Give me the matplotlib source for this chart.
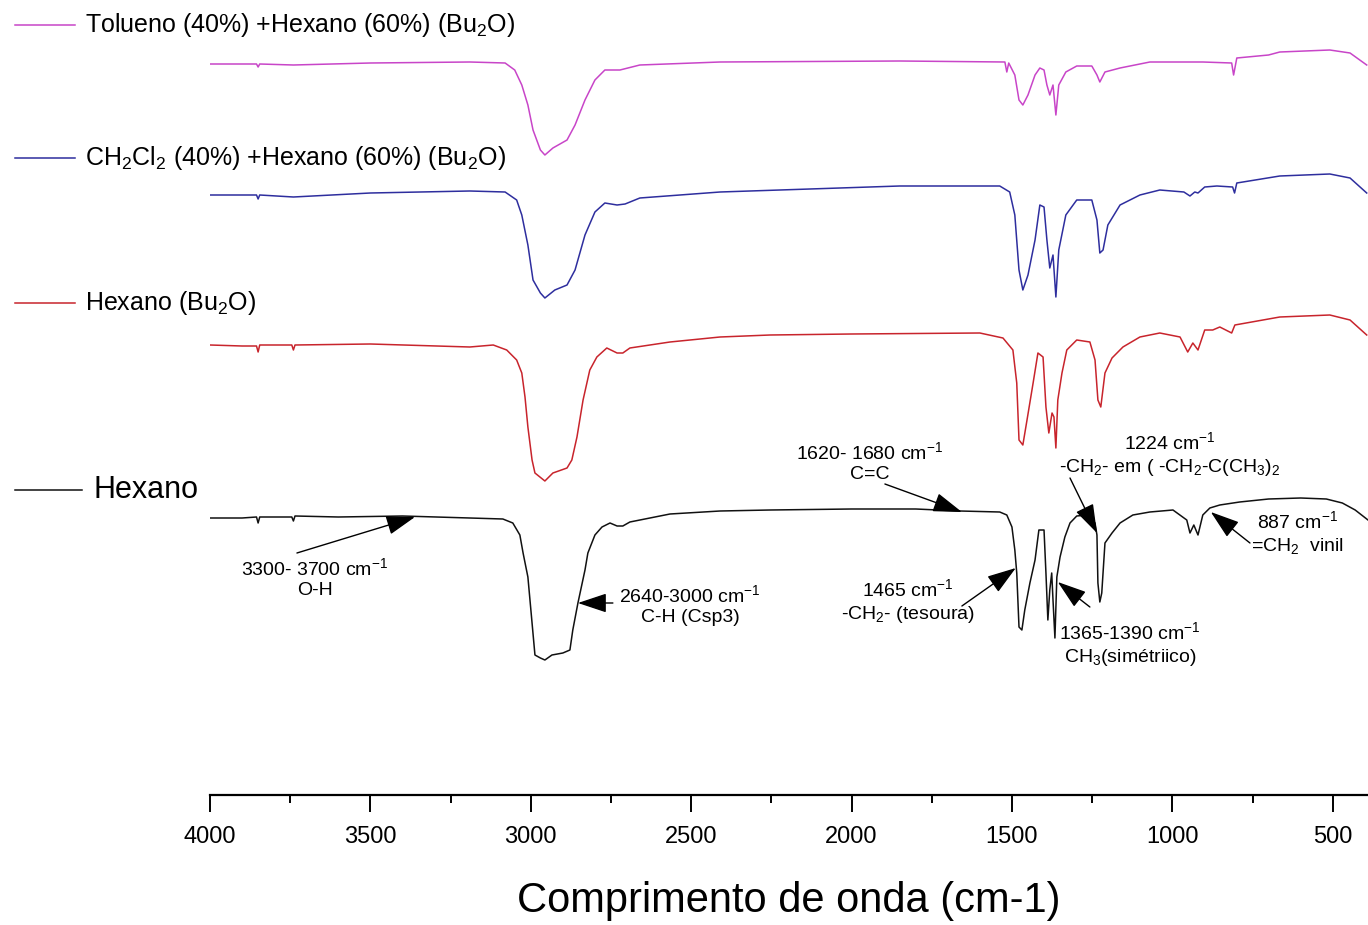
"""Stacked FTIR spectra of hexane fractions (Bu2O) with band assignments."""

import matplotlib.pyplot as plt
from matplotlib.lines import Line2D
from matplotlib.ticker import MultipleLocator

plt.rcParams['font.family'] = ['Liberation Sans', 'DejaVu Sans']
plt.rcParams['mathtext.default'] = 'regular'

# Spectra: wavenumber [cm-1] and stacked transmittance [a.u.]
hex_wn = [4000, 3900, 3855, 3850, 3845, 3745, 3740, 3735, 3600, 3400, 3190, 3087, 3056, 3034,
          3024, 3009, 2996, 2987, 2970, 2956, 2934, 2900, 2878, 2869, 2853, 2831, 2822, 2800,
          2778, 2753, 2731, 2713, 2691, 2566, 2410, 2254, 2000, 1800, 1662, 1538, 1516, 1500,
          1491, 1485, 1478, 1469, 1460, 1444, 1428, 1416, 1400, 1394, 1388, 1382, 1376, 1372,
          1366, 1360, 1350, 1335, 1319, 1298, 1266, 1241, 1235, 1232, 1226, 1220, 1210, 1188,
          1163, 1123, 1070, 998, 955, 945, 933, 920, 905, 883, 852, 790, 700, 600, 520, 470,
          430, 390]
hex_t = [277, 277, 278, 272, 278, 278, 274, 279, 278, 279, 277, 276, 272, 260,
         242, 218, 172, 140, 137, 135, 140, 142, 145, 165, 192, 225, 242, 260,
         268, 272, 269, 269, 273, 281, 284, 285, 286, 286, 284, 283, 280, 268,
         245, 222, 168, 165, 185, 212, 235, 265, 265, 222, 175, 205, 222, 195,
         157, 218, 238, 258, 272, 279, 280, 272, 260, 212, 193, 202, 252, 262,
         272, 280, 283, 285, 275, 262, 270, 260, 280, 287, 290, 293, 296, 297, 296, 292,
         285, 275]

hexbu_wn = [4000, 3900, 3855, 3850, 3845, 3745, 3740, 3735, 3500, 3190, 3117, 3075, 3044, 3028,
            3018, 3009, 2996, 2987, 2956, 2931, 2887, 2872, 2856, 2837, 2816, 2794, 2763, 2731,
            2713, 2691, 2566, 2410, 2254, 2000, 1600, 1528, 1497, 1485, 1478, 1466, 1453, 1434,
            1419, 1403, 1394, 1385, 1375, 1369, 1363, 1357, 1344, 1329, 1298, 1257, 1241, 1232,
            1223, 1210, 1188, 1154, 1101, 1039, 976, 952, 936, 920, 899, 874, 852, 815, 805,
            665, 509, 446, 394]
hexbu_t = [450, 449, 449, 443, 450, 450, 445, 450, 451, 448, 450, 445, 435, 422,
           398, 368, 335, 322, 314, 322, 327, 335, 358, 395, 425, 438, 447, 442,
           442, 447, 453, 458, 460, 461, 462, 457, 445, 412, 355, 350, 375, 412,
           442, 438, 388, 362, 382, 378, 347, 395, 422, 445, 455, 453, 435, 395,
           388, 422, 437, 448, 458, 462, 458, 443, 452, 445, 465, 465, 468, 462, 470,
           478, 480, 475, 460]

dcm_wn = [4000, 3855, 3850, 3845, 3740, 3500, 3190, 3080, 3044, 3028, 3009, 2993, 2970, 2956,
          2925, 2887, 2862, 2831, 2800, 2769, 2731, 2706, 2660, 2410, 1850, 1538, 1507, 1491,
          1478, 1466, 1450, 1428, 1413, 1400, 1391, 1382, 1372, 1363, 1354, 1332, 1298, 1251,
          1235, 1226, 1216, 1201, 1163, 1101, 1039, 964, 945, 930, 920, 899, 861, 812, 806,
          799, 665, 509, 446, 394]
dcm_t = [600, 600, 596, 600, 598, 602, 604, 603, 595, 580, 550, 515, 502, 497,
         505, 510, 525, 560, 583, 592, 590, 591, 597, 603, 609, 609, 603, 580,
         525, 505, 520, 555, 590, 588, 555, 527, 540, 498, 545, 580, 595, 595,
         575, 542, 545, 570, 590, 600, 605, 603, 599, 603, 602, 608, 609, 608, 602,
         612, 619, 621, 617, 602]

tol_wn = [4000, 3855, 3850, 3845, 3740, 3500, 3190, 3080, 3050, 3028, 3009, 2993, 2970, 2956,
          2931, 2887, 2862, 2831, 2800, 2769, 2722, 2660, 2410, 1850, 1522, 1516, 1510, 1491,
          1478, 1466, 1450, 1428, 1413, 1400, 1391, 1382, 1372, 1363, 1354, 1332, 1298, 1251,
          1235, 1226, 1210, 1163, 1070, 905, 815, 809, 799, 700, 665, 509, 446, 394]
tol_t = [731, 731, 728, 731, 730, 732, 733, 732, 725, 710, 690, 665, 645, 640,
         647, 655, 670, 695, 715, 725, 725, 730, 733, 734, 733, 723, 732, 720,
         695, 690, 700, 720, 727, 725, 710, 700, 710, 680, 710, 723, 729, 729,
         720, 713, 723, 727, 733, 733, 732, 720, 737, 740, 743, 745, 742, 730]

series = [
    (tol_wn, tol_t, '#c845c8', 'Tolueno (40%) +Hexano (60%) (Bu$_2$O)'),
    (dcm_wn, dcm_t, '#2e2e9e', 'CH$_2$Cl$_2$ (40%) +Hexano (60%) (Bu$_2$O)'),
    (hexbu_wn, hexbu_t, '#c8242c', 'Hexano (Bu$_2$O)'),
    (hex_wn, hex_t, '#111111', 'Hexano'),
]

# band assignments: text, text position, arrow tail, arrow tip (wavenumber, a.u.)
bands = [
    ('3300- 3700 cm$^{-1}$\nO-H', (3673, 217), (3729, 242), (3361, 278)),
    ('2640-3000 cm$^{-1}$\nC-H (Csp3)', (2504, 190), (2744, 192), (2853, 192)),
    ('1620- 1680 cm$^{-1}$\nC=C', (1943, 333), (1896, 311), (1656, 283)),
    ('1465 cm$^{-1}$\n-CH$_2$- (tesoura)', (1824, 193), (1656, 189), (1488, 227)),
    ('1365-1390 cm$^{-1}$\nCH$_3$(simétriico)', (1132, 150), (1257, 188), (1357, 213)),
    ('1224 cm$^{-1}$\n-CH$_2$- em ( -CH$_2$-C(CH$_3$)$_2$', (1008, 340), (1319, 317), (1235, 262)),
    ('887 cm$^{-1}$\n=CH$_2$  vinil', (609, 262), (758, 252), (880, 283)),
]

fig = plt.figure(figsize=(13.68, 9.25), dpi=100)
ax = fig.add_axes([210 / 1368, 1 - 795 / 925, 1 - 210 / 1368, 795 / 925])

for wn, t, color, label in series:
    ax.plot(wn, t, color=color, lw=1.1)

for text, pos, tail, tip in bands:
    ax.text(pos[0], pos[1], text, ha='center', va='center', fontsize=14, linespacing=1.25)
    ax.annotate('', xy=tip, xytext=tail,
                arrowprops=dict(arrowstyle='-|>,head_length=0.9,head_width=0.3',
                                color='black', lw=1, mutation_scale=20,
                                shrinkA=0, shrinkB=0))

# legend-like labels on the left
legend_rows = [(25, 75, 85, 18), (158, 75, 85, 18), (303, 75, 85, 18), (490, 82, 93, 22)]
for (y, x1, xt, fs), (_, _, color, label) in zip(legend_rows, series):
    yf = 1 - y / 925
    fig.add_artist(Line2D([15 / 1368, x1 / 1368], [yf, yf], transform=fig.transFigure,
                          color=color, lw=1.1))
    fig.text(xt / 1368, yf, label, va='center', ha='left', fontsize=fs)

ax.set_xlim(4000, 390)
ax.set_ylim(0, 795)
ax.xaxis.set_major_locator(MultipleLocator(500))
ax.xaxis.set_minor_locator(MultipleLocator(250))
ax.tick_params(axis='x', which='major', length=12, width=1.4, labelsize=17, pad=10)
ax.tick_params(axis='x', which='minor', length=6, width=1.4)
ax.set_yticks([])
for side in ['left', 'top', 'right']:
    ax.spines[side].set_visible(False)
ax.spines['bottom'].set_linewidth(1.6)
ax.set_xlabel('Comprimento de onda (cm-1)', fontsize=30, labelpad=24)

fig.savefig('out.png', dpi=100)
